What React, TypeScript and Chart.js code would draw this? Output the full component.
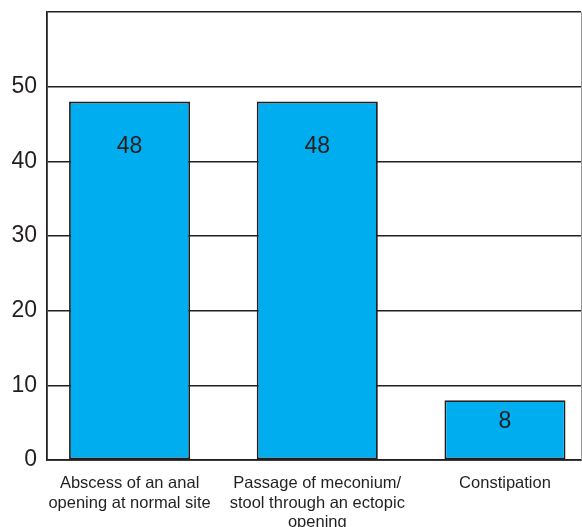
import React, { useEffect, useRef } from "react";
import { Chart, registerables } from "chart.js";

Chart.register(...registerables);

const categories: string[][] = [
  ["Abscess of an anal", "opening at normal site"],
  ["Passage of meconium/", "stool through an ectopic", "opening"],
  ["Constipation"],
];
const values: number[] = [48, 48, 8];
const yTicks: number[] = [0, 10, 20, 30, 40, 50];

const FONT = "'Liberation Sans', Arial, Helvetica, sans-serif";
const INK = "#231f20";

const valueLabels = {
  id: "valueLabels",
  afterDatasetsDraw(chart: any) {
    const ctx = chart.ctx;
    const meta = chart.getDatasetMeta(0);
    ctx.save();
    ctx.fillStyle = INK;
    ctx.font = `23px ${FONT}`;
    ctx.textAlign = "center";
    ctx.textBaseline = "middle";
    meta.data.forEach((bar: any, i: number) => {
      const h = bar.base - bar.y;
      const off = Math.min(45, h * 0.36);
      ctx.fillText(String(values[i]), bar.x, bar.y + off);
    });
    ctx.restore();
  },
};

const rightEdge = {
  id: "rightEdge",
  afterDraw(chart: any) {
    const { ctx, chartArea } = chart;
    ctx.save();
    ctx.strokeStyle = "#9a9a9a";
    ctx.lineWidth = 1;
    ctx.beginPath();
    ctx.moveTo(chartArea.right + 0.5, chartArea.top);
    ctx.lineTo(chartArea.right + 0.5, chartArea.bottom);
    ctx.stroke();
    ctx.restore();
  },
};

export default function App() {
  const ref = useRef<HTMLCanvasElement | null>(null);
  useEffect(() => {
    document.body.style.margin = "0";
    if (!ref.current) return;
    const chart = new Chart(ref.current, {
      type: "bar",
      data: {
        datasets: [
          {
            data: values.map((v, i) => ({ x: i, y: v })),
            backgroundColor: "#00aeef",
            borderColor: INK,
            borderWidth: 1.8,
            borderSkipped: false,
            categoryPercentage: 1,
            barPercentage: 0.645,
          },
        ],
      },
      options: {
        responsive: false,
        animation: false,
        layout: { padding: { top: 12, right: 1, left: 0, bottom: 0 } },
        plugins: {
          legend: { display: false },
          tooltip: { enabled: false },
        },
        scales: {
          x: {
            type: "linear",
            offset: false,
            min: -0.44,
            max: 2.405,
            grid: { display: false },
            border: { display: true, color: INK, width: 1.8 },
            afterBuildTicks(scale: any) {
              scale.ticks = categories.map((_, i) => ({ value: i }));
            },
            ticks: {
              color: INK,
              font: { family: FONT, size: 16.5, lineHeight: 1.18 },
              maxRotation: 0,
              autoSkip: false,
              padding: 6,
              callback: (v: any) => categories[Number(v)] ?? "",
            },
            afterFit(scale: any) {
              scale.height = 67;
              scale.paddingLeft = 0;
              scale.paddingRight = 0;
            },
          },
          y: {
            min: 0,
            max: 60,
            grid: { color: INK, lineWidth: 1.6, drawTicks: false },
            border: { display: true, color: INK, width: 1.8 },
            ticks: {
              stepSize: 10,
              color: INK,
              padding: 10,
              font: { family: FONT, size: 23 },
              callback: (v: any) => (yTicks.includes(Number(v)) ? String(v) : ""),
            },
            afterFit(scale: any) {
              scale.width = 47;
              scale.paddingTop = 0;
              scale.paddingBottom = 0;
            },
          },
        },
      },
      plugins: [valueLabels, rightEdge],
    });
    return () => chart.destroy();
  }, []);
  return <canvas ref={ref} width={582} height={527} />;
}
